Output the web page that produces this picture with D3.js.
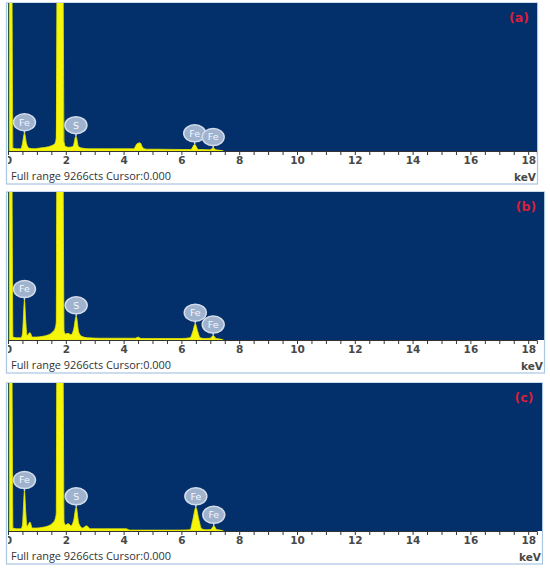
<!DOCTYPE html>
<html>
<head>
<meta charset="utf-8">
<title>EDS spectra</title>
<script src="https://cdn.jsdelivr.net/npm/d3@7"></script>
<style>
body{margin:0;background:#fff;}
</style>
</head>
<body>
<div id="chart"></div>
<script>
var w=550,h=572;

var panelNames=["(a)","(b)","(c)"];
var tickLabels=[0,2,4,6,8,10,12,14,16,18];
var rangeText="Full range 9266cts Cursor:0.000";
var unitText="keV";

// spectra: energy (keV) and height (% of panel)
var keVA=[0,0.03,0.13,0.17,0.3,0.45,0.5,0.57,0.64,0.72,0.9,1.1,1.3,1.5,1.62,1.67,1.7,1.9,1.94,1.99,2.1,2.25,2.35,2.44,2.55,2.8,3.5,4.35,4.47,4.57,4.67,4.8,5.2,6.0,6.33,6.46,6.58,6.75,6.98,7.1,7.2,7.3,7.45];
var ctsA=[0,125,125,2,1.5,1.5,5,12,5,2,1.5,2,2.5,3.5,5,9,125,125,6,3,2.5,3,10,3,2,1.5,1.5,1.5,5,5.5,2,1.2,1.2,1,1,4.5,1,1,0.8,2,0.8,0.6,0];

var keVB=[0,0.03,0.13,0.17,0.3,0.45,0.5,0.53,0.57,0.61,0.66,0.76,0.84,1.0,1.2,1.4,1.55,1.63,1.67,1.69,1.9,1.94,1.99,2.08,2.18,2.27,2.36,2.45,2.55,2.75,3.2,4.0,4.42,4.5,4.6,5.0,6.0,6.3,6.4,6.48,6.56,6.65,6.8,7.0,7.1,7.2,7.35,7.45];
var ctsB=[0,125,125,2,1.5,1.5,4,14,27,14,3,5,2,2,2.5,3.5,5.5,8,12,125,125,6,4,4.5,3.5,7,16,5,2.5,1.5,1.2,1.2,1.2,2,1,1,1,1.5,6,11,6,1.5,1,1.2,3,1,0.6,0];

var keVC=[0,0.03,0.13,0.17,0.3,0.45,0.5,0.53,0.57,0.61,0.66,0.76,0.84,1.0,1.2,1.4,1.55,1.63,1.67,1.69,1.9,1.94,1.99,2.08,2.18,2.27,2.36,2.45,2.58,2.72,2.85,3.3,4.1,4.2,5.0,6.0,6.3,6.4,6.5,6.6,6.7,6.85,7.02,7.12,7.22,7.35,7.45];
var ctsC=[0,125,125,2,1.5,1.5,4,14,27,14,3,6,2,2,2.5,3.5,5.5,8,12,125,125,6,4,5,3.5,7,16,5,2,3.5,1.5,1.5,1.5,0.6,0.6,0.6,0.8,8,16,8,1.5,0.8,1,3.5,1,0.6,0];

// peak labels: element, energy (keV), peak height (%)
var peakNames=["Fe","S","Fe","Fe"];
var peakKeVA=[0.57,2.35,6.46,7.1];
var peakTopA=[12,10,4.5,2];
var peakKeVB=[0.57,2.36,6.48,7.1];
var peakTopB=[27,16,11,3];
var peakKeVC=[0.57,2.36,6.5,7.12];
var peakTopC=[27,16,16,3.5];

var panels=[
  {name:panelNames[0],keV:keVA,cts:ctsA,pk:peakKeVA,top:peakTopA,y0:3,right:537},
  {name:panelNames[1],keV:keVB,cts:ctsB,pk:peakKeVB,top:peakTopB,y0:192,right:544},
  {name:panelNames[2],keV:keVC,cts:ctsC,pk:peakKeVC,top:peakTopC,y0:383,right:542}
];

var left=8,plotH=148,stripH=33;
var blue="#03306b",yellow="#f6f60c";

var svg=d3.select('#chart')
          .append('svg')
          .attr('width',w)
          .attr('height',h);

panels.forEach(function(p,k){
  var g=svg.append('g').attr('transform','translate(0,'+p.y0+')');
  var x=d3.scaleLinear().domain([0,18.3]).range([left,left+18.3*28.9]);
  var y=d3.scaleLinear().domain([0,100]).range([plotH,0]);
  var pw=p.right-left;

  var clipId='clip'+k;
  g.append('clipPath').attr('id',clipId)
   .append('rect').attr('x',left).attr('y',0).attr('width',pw).attr('height',plotH);
  var clipAll='clipall'+k;
  g.append('clipPath').attr('id',clipAll)
   .append('rect').attr('x',left).attr('y',0).attr('width',pw).attr('height',plotH+stripH);

  // frame
  g.append('rect')
   .attr('x',left-1.5).attr('y',0)
   .attr('width',pw+2).attr('height',plotH+stripH)
   .attr('fill','#fff').attr('stroke','#a9c6e2').attr('stroke-width',1.2);

  g.append('rect')
   .attr('x',left).attr('y',0)
   .attr('width',pw).attr('height',plotH)
   .attr('fill',blue);

  var data=p.keV.map(function(e,i){return [e,p.cts[i]];});
  var area=d3.area()
             .x(function(d){return x(d[0]);})
             .y0(y(0))
             .y1(function(d){return y(d[1]);})
             .curve(d3.curveMonotoneX);

  g.append('path')
   .datum(data)
   .attr('clip-path','url(#'+clipId+')')
   .attr('d',area)
   .attr('fill',yellow)
   .attr('stroke','#e4e400')
   .attr('stroke-width',0.8);

  // dark edge at the very left of the spike
  g.append('rect')
   .attr('x',left).attr('y',0)
   .attr('width',1.2).attr('height',plotH)
   .attr('fill','#2f5a3a');

  // axis
  var ax=g.append('g').attr('clip-path','url(#'+clipAll+')');
  ax.append('g')
    .attr('transform','translate(0,'+plotH+')')
    .call(d3.axisBottom(x).tickValues(d3.range(0,18.01,0.5)).tickSize(4).tickFormat(''))
    .call(function(s){
      s.select('.domain').attr('stroke','#333');
      s.selectAll('.tick line').attr('stroke','#333');
    });
  ax.append('g')
    .attr('transform','translate(0,'+plotH+')')
    .call(d3.axisBottom(x).tickValues(tickLabels).tickSize(0).tickPadding(6))
    .call(function(s){
      s.select('.domain').remove();
      s.selectAll('text')
       .attr('font-family','DejaVu Sans, sans-serif')
       .attr('font-size','10.5px')
       .attr('font-weight','bold')
       .attr('fill','#484848');
    });

  ax.append('text')
    .attr('x',left+3).attr('y',plotH+28.5)
    .attr('font-family','Open Sans, sans-serif')
    .attr('font-size','10.5px')
    .attr('fill','#333')
    .attr('textLength',160)
    .attr('lengthAdjust','spacingAndGlyphs')
    .text(rangeText);

  g.append('text')
   .attr('x',p.right-1).attr('y',plotH+30)
   .attr('text-anchor','end')
   .attr('font-family','DejaVu Sans, sans-serif')
   .attr('font-size','10.5px')
   .attr('font-weight','bold')
   .attr('fill','#484848')
   .text(unitText);

  // panel name
  g.append('text')
   .attr('x',p.right-18).attr('y',19)
   .attr('text-anchor','middle')
   .attr('font-family','DejaVu Sans, sans-serif')
   .attr('font-size','12.5px')
   .attr('font-weight','bold')
   .attr('fill','#d81f3c')
   .text(p.name);

  // peak label bubbles
  var lab=g.selectAll('.lab')
           .data(peakNames.map(function(n,i){return {n:n,e:p.pk[i],t:p.top[i]};}))
           .enter()
           .append('g')
           .attr('class','lab')
           .attr('transform',function(d){return 'translate('+x(d.e)+','+(y(d.t)-11)+')';});
  lab.append('line')
     .attr('x1',0).attr('x2',0).attr('y1',6).attr('y2',11)
     .attr('stroke','#c3d0e2').attr('stroke-width',1.5);
  lab.append('ellipse')
     .attr('rx',11).attr('ry',8.5)
     .attr('fill','#9fb3cf')
     .attr('stroke','#d3dcea')
     .attr('stroke-width',1.5);
  lab.append('text')
     .attr('text-anchor','middle')
     .attr('dy','0.35em')
     .attr('font-family','DejaVu Sans, sans-serif')
     .attr('font-size','9.5px')
     .attr('fill','#f4f7fb')
     .text(function(d){return d.n;});
});
</script>
</body>
</html>
